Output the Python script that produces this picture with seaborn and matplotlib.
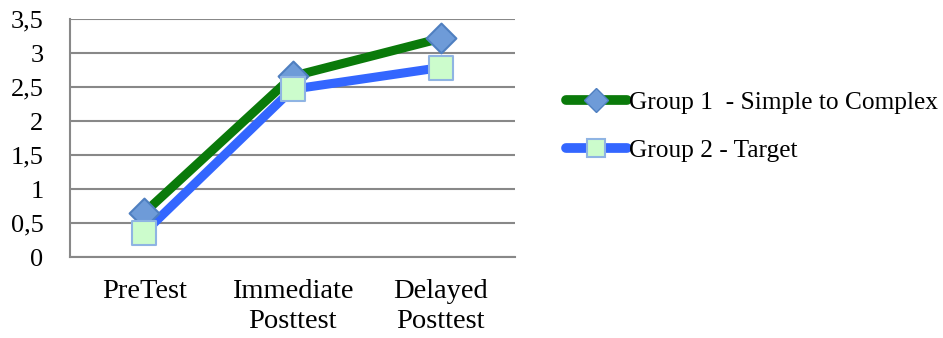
import matplotlib
matplotlib.use("Agg")
import matplotlib.pyplot as plt
import seaborn as sns
import pandas as pd
from matplotlib.lines import Line2D

# Mean scores per test phase
phases = ["PreTest", "Immediate\nPosttest", "Delayed\nPosttest"]
group1_scores = [0.65, 2.66, 3.22]
group2_scores = [0.36, 2.47, 2.79]
group_names = ["Group 1  - Simple to Complex", "Group 2 - Target"]
y_ticks = [0, 0.5, 1, 1.5, 2, 2.5, 3, 3.5]
y_tick_labels = ["0", "0,5", "1", "1,5", "2", "2,5", "3", "3,5"]

df = pd.DataFrame({
    "phase": list(range(len(phases))) * 2,
    "score": group1_scores + group2_scores,
    "group": [group_names[0]] * 3 + [group_names[1]] * 3,
})

sns.set_theme(style="white")
plt.rcParams["font.family"] = ["Liberation Serif", "DejaVu Serif"]
plt.rcParams["text.color"] = "black"
plt.rcParams["xtick.color"] = "black"
plt.rcParams["ytick.color"] = "black"

fig = plt.figure(figsize=(9.43, 3.38), dpi=100)
ax = fig.add_axes([70 / 943, 1 - 257 / 338, 445 / 943, (257 - 19.3) / 338])

line_colors = {group_names[0]: "#0a7a0a", group_names[1]: "#3366ff"}
sns.lineplot(data=df, x="phase", y="score", hue="group", palette=line_colors,
             linewidth=6.5, ax=ax, legend=False, zorder=3)

# Markers drawn on top of the lines
marker_styles = [
    dict(marker="D", s=230, facecolor="#6e9bd8", edgecolor="#4f7fc0"),
    dict(marker="s", s=310, facecolor="#ccfccc", edgecolor="#8fb4e3"),
]
for name, style in zip(group_names, marker_styles):
    sub = df[df["group"] == name]
    ax.scatter(sub["phase"], sub["score"], linewidths=1.5, zorder=4, **style)

ax.set_xlim(-0.5, 2.5)
ax.set_ylim(0, 3.5)
ax.set_yticks(y_ticks)
ax.set_yticklabels(y_tick_labels, fontsize=19)
ax.set_xticks(range(len(phases)))
ax.set_xticklabels(phases, fontsize=20.5, linespacing=1.24)
ax.set_xticks([-0.5, 0.5, 1.5, 2.5], minor=True)
ax.tick_params(axis="x", which="major", length=0, pad=16)
ax.tick_params(axis="x", which="minor", length=8, width=1.5, color="#888888", direction="out")
ax.tick_params(axis="y", length=8, width=1.5, color="#888888", direction="out", pad=11)
ax.set_xlabel("")
ax.set_ylabel("")
ax.grid(axis="y", color="#888888", linewidth=1.5)
ax.set_axisbelow(True)
for side in ["top", "right"]:
    ax.spines[side].set_visible(False)
for side in ["left", "bottom"]:
    ax.spines[side].set_color("#888888")
    ax.spines[side].set_linewidth(1.5)

# Legend with line-through-marker handles
handles = [
    Line2D([], [], color=line_colors[group_names[0]], linewidth=7, solid_capstyle="round",
           marker="D", markersize=12.5, markerfacecolor="#6e9bd8", markeredgecolor="#4f7fc0"),
    Line2D([], [], color=line_colors[group_names[1]], linewidth=7, solid_capstyle="round",
           marker="s", markersize=13.5, markerfacecolor="#ccfccc", markeredgecolor="#8fb4e3",
           markeredgewidth=1.5),
]
fig.legend(handles, group_names, loc="upper left", bbox_to_anchor=(553 / 943, 1 - 78 / 338),
           frameon=False, fontsize=18.3, handlelength=2.4, handletextpad=0.1,
           labelspacing=1.0, borderpad=0)

fig.savefig("out.png", dpi=100)
